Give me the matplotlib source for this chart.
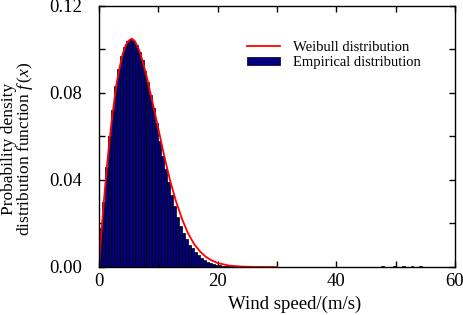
import numpy as np
import matplotlib
matplotlib.use("Agg")
import matplotlib.pyplot as plt
from matplotlib.ticker import MultipleLocator, FormatStrFormatter

plt.rcParams["font.family"] = ["Liberation Serif", "DejaVu Serif"]
plt.rcParams["mathtext.fontset"] = "custom"
plt.rcParams["mathtext.rm"] = "Liberation Serif"
plt.rcParams["mathtext.it"] = "Liberation Serif:italic"

# empirical histogram, 0.5 m/s bins starting at 0
bin_width = 0.5
hist_heights = [0.018, 0.030, 0.046, 0.060, 0.072, 0.083, 0.091, 0.097, 0.101, 0.104,
                0.105, 0.104, 0.102, 0.099, 0.095, 0.090, 0.085, 0.079, 0.073, 0.066,
                0.058, 0.051, 0.045, 0.039, 0.033, 0.028, 0.023, 0.019, 0.0155, 0.0127,
                0.0101, 0.0086, 0.0068, 0.0053, 0.0041, 0.0031, 0.0024, 0.0018, 0.0014, 0.0011,
                0.0008, 0.0006, 0.0005, 0.0004, 0.0003]
bin_left = np.arange(len(hist_heights)) * bin_width

# a few rare high-speed observations
tail_left = [47.5, 49.5, 51.0, 52.5, 54.0]
tail_heights = [0.0004, 0.0003, 0.0004, 0.0003, 0.0003]

# fitted weibull curve
weibull_x = [0, 0.25, 0.5, 1, 1.5, 2, 2.5, 3, 3.5, 4, 4.5, 5, 5.5, 6, 6.5, 7, 7.5, 8,
             9, 10, 11, 12, 13, 14, 15, 16, 17, 18, 19, 20, 22, 24, 26, 28, 30]
weibull_y = [0, 0.011, 0.0195, 0.036, 0.051, 0.064, 0.075, 0.085, 0.092, 0.098, 0.102,
             0.104, 0.105, 0.104, 0.1015, 0.098, 0.093, 0.088, 0.076, 0.0635, 0.051,
             0.0395, 0.030, 0.022, 0.0155, 0.0107, 0.0072, 0.0047, 0.003, 0.0018,
             0.0006, 0.0002, 0.00005, 0, 0]

fig = plt.figure(figsize=(4.64, 3.15), dpi=100)
ax = fig.add_axes([0.2134, 0.1524, 0.7672, 0.8286])

ax.bar(bin_left, hist_heights, width=bin_width, align="edge", color="#000080",
       edgecolor="black", linewidth=0.5, label="Empirical distribution")
ax.bar(tail_left, tail_heights, width=bin_width, align="edge", color="#000080",
       edgecolor="black", linewidth=0.5)
ax.plot(weibull_x, weibull_y, color="red", linewidth=1.3, label="Weibull distribution")

ax.set_xlim(0, 60)
ax.set_ylim(0, 0.12)
ax.xaxis.set_major_locator(MultipleLocator(20))
ax.xaxis.set_minor_locator(MultipleLocator(10))
ax.yaxis.set_major_locator(MultipleLocator(0.04))
ax.yaxis.set_minor_locator(MultipleLocator(0.02))
ax.yaxis.set_major_formatter(FormatStrFormatter("%.2f"))
ax.tick_params(which="both", direction="in", top=True, right=True, length=4,
               width=1, labelsize=13.5)
ax.tick_params(axis="x", pad=4)
ax.tick_params(axis="y", pad=12)
for s in ax.spines.values():
    s.set_linewidth(1)

ax.set_xlabel("Wind speed/(m/s)", fontsize=13.5)
ax.xaxis.set_label_coords(0.55, -0.111)
ax.set_ylabel("Probability density\ndistribution function $f\\,(x)$", fontsize=12.5,
              linespacing=0.85)
ax.yaxis.set_label_coords(-0.18, 0.452)

ax.legend(loc="upper right", bbox_to_anchor=(0.925, 0.895), frameon=False,
          fontsize=10.5, handlelength=2.3, handleheight=0.5, labelspacing=0.15,
          handletextpad=0.9, borderpad=0)

fig.savefig("out.png", dpi=100)
